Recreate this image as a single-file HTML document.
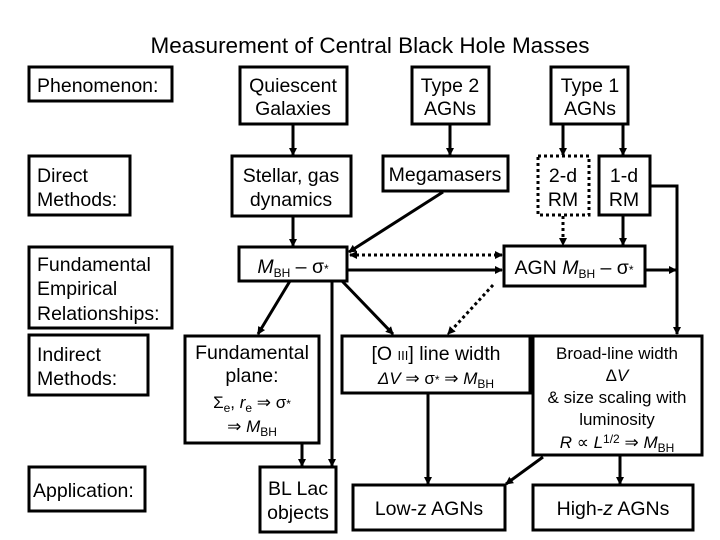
<!DOCTYPE html>
<html><head><meta charset="utf-8"><style>
body{margin:0;background:#fff}
svg{display:block}
text{font-family:"Liberation Sans",Arial,sans-serif;font-size:19.5px;fill:#000}
.i{font-style:italic}
.s{font-size:12px}
.m{font-size:17px}
</style></head><body>
<svg width="720" height="540" viewBox="0 0 720 540">
<defs><marker id="a" markerWidth="8" markerHeight="8" refX="7" refY="4" orient="auto" markerUnits="userSpaceOnUse"><path d="M0,0 L8,4 L0,8 z" fill="#000"/></marker>
<marker id="b" markerWidth="8" markerHeight="8" refX="1" refY="4" orient="auto" markerUnits="userSpaceOnUse"><path d="M8,0 L0,4 L8,8 z" fill="#000"/></marker></defs>
<text x="370" y="53" text-anchor="middle" style="font-size:22.5px">Measurement of Central Black Hole Masses</text>
<g fill="none" stroke="#000" stroke-width="3">
<rect x="29" y="67" width="143" height="34"/>
<rect x="29" y="156" width="101" height="59"/>
<rect x="29" y="247" width="143" height="81"/>
<rect x="29" y="335" width="119" height="60"/>
<rect x="29" y="467" width="116" height="44"/>
<rect x="240" y="67" width="107" height="57"/>
<rect x="232" y="156" width="119" height="60"/>
<rect x="239" y="247" width="108" height="34"/>
<rect x="412" y="67" width="77" height="57"/>
<rect x="383" y="156" width="125" height="35"/>
<rect x="551" y="67" width="77" height="57"/>
<rect x="538" y="156" width="51" height="59" stroke-dasharray="3,3"/>
<rect x="599" y="156" width="51" height="59"/>
<rect x="504" y="246" width="141" height="40"/>
<rect x="185" y="336" width="134" height="107"/>
<rect x="342" y="336" width="188" height="57"/>
<rect x="533" y="336" width="169" height="119"/>
<rect x="260" y="467" width="76" height="65"/>
<rect x="353" y="485" width="152" height="45"/>
<rect x="533" y="485" width="160" height="45"/>
</g>
<g fill="none" stroke="#000" stroke-width="3" marker-end="url(#a)">
<line x1="293" y1="124" x2="293" y2="155"/>
<line x1="293" y1="216" x2="293" y2="246"/>
<line x1="450" y1="124" x2="450" y2="155"/>
<line x1="443" y1="192" x2="349" y2="252"/>
<line x1="563" y1="124" x2="563" y2="155"/>
<line x1="623" y1="124" x2="623" y2="155"/>
<line x1="563" y1="216" x2="563" y2="245" stroke-dasharray="3,3"/>
<line x1="623" y1="216" x2="623" y2="245"/>
<line x1="350" y1="255" x2="502" y2="255" stroke-dasharray="3,3" marker-start="url(#b)"/>
<line x1="347" y1="270" x2="502" y2="270"/>
<line x1="645" y1="270" x2="676" y2="270"/>
<polyline points="650,186 677,186 677,334"/>
<line x1="290" y1="281" x2="258" y2="334"/>
<line x1="332" y1="281" x2="332" y2="466"/>
<line x1="342" y1="281" x2="393" y2="334"/>
<line x1="493" y1="285" x2="448" y2="334" stroke-dasharray="3,3"/>
<line x1="302" y1="443" x2="302" y2="466"/>
<line x1="428" y1="393" x2="428" y2="484"/>
<line x1="543" y1="457" x2="506" y2="484"/>
<line x1="620" y1="455" x2="620" y2="484"/>
</g>
<text x="37" y="92">Phenomenon:</text>
<text x="37" y="182">Direct</text><text x="37" y="206">Methods:</text>
<text x="37" y="271">Fundamental</text><text x="37" y="295">Empirical</text><text x="37" y="320">Relationships:</text>
<text x="37" y="361">Indirect</text><text x="37" y="385">Methods:</text>
<text x="33" y="497">Application:</text>
<g text-anchor="middle">
<text x="293" y="92">Quiescent</text><text x="293" y="115">Galaxies</text>
<text x="291" y="182">Stellar, gas</text><text x="291" y="206">dynamics</text>
<text x="450" y="92">Type 2</text><text x="450" y="115">AGNs</text>
<text x="445" y="181">Megamasers</text>
<text x="590" y="92">Type 1</text><text x="590" y="115">AGNs</text>
<text x="563" y="182">2-d</text><text x="563" y="206">RM</text>
<text x="624" y="182">1-d</text><text x="624" y="206">RM</text>
<text x="293" y="273"><tspan class="i">M</tspan><tspan class="s" dy="4">BH</tspan><tspan dy="-4"> – σ</tspan><tspan class="s">*</tspan></text>
<text x="574" y="274">AGN <tspan class="i">M</tspan><tspan class="s" dy="4">BH</tspan><tspan dy="-4"> – σ</tspan><tspan class="s">*</tspan></text>
<text x="252" y="359">Fundamental</text><text x="252" y="382">plane:</text>
<text x="252" y="408" class="m">Σ<tspan class="s" dy="4">e</tspan><tspan dy="-4">, </tspan><tspan class="i">r</tspan><tspan class="s" dy="4">e</tspan><tspan dy="-4"> ⇒ σ</tspan><tspan class="s">*</tspan></text>
<text x="252" y="432" class="m">⇒ <tspan class="i">M</tspan><tspan class="s" dy="4">BH</tspan></text>
<text x="436" y="360">[O <tspan style="font-size:13px">III</tspan>] line width</text>
<text x="436" y="384" class="m"><tspan class="i">ΔV</tspan> ⇒ σ<tspan class="s">*</tspan> ⇒ <tspan class="i">M</tspan><tspan class="s" dy="4">BH</tspan></text>
<text x="617" y="359" class="m">Broad-line width</text>
<text x="617" y="381" class="m">Δ<tspan class="i">V</tspan></text>
<text x="617" y="403" class="m">&amp; size scaling with</text>
<text x="617" y="425" class="m">luminosity</text>
<text x="617" y="448" class="m"><tspan class="i">R</tspan> ∝ <tspan class="i">L</tspan><tspan class="s" dy="-5">1/2</tspan><tspan dy="5"> ⇒ </tspan><tspan class="i">M</tspan><tspan class="s" dy="4">BH</tspan></text>
<text x="298" y="495">BL Lac</text><text x="298" y="519">objects</text>
<text x="429" y="515">Low-z AGNs</text>
<text x="613" y="515">High-<tspan class="i">z</tspan> AGNs</text>
</g>
</svg>
</body></html>
